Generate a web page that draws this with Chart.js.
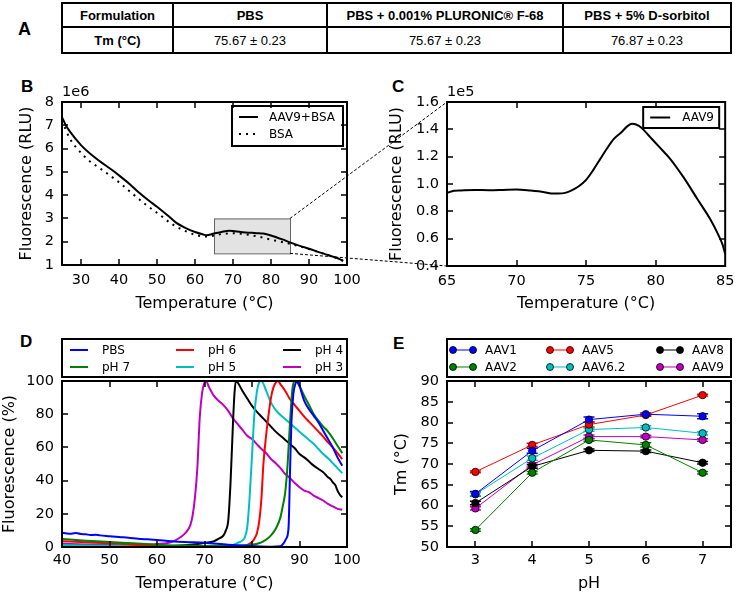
<!DOCTYPE html>
<html><head><meta charset="utf-8">
<script src="https://cdn.jsdelivr.net/npm/chart.js@4.4.1/dist/chart.umd.min.js"></script>
<style>
html,body{margin:0;padding:0;background:#fff;}
body{width:741px;height:596px;position:relative;overflow:hidden;}
canvas{position:absolute;}
.lbl{position:absolute;font:bold 17px "Liberation Sans",Arial,sans-serif;line-height:17px;color:#000;}
table{position:absolute;left:61px;top:2px;border-collapse:collapse;table-layout:fixed;font:13px "Liberation Sans",Arial,sans-serif;color:#000;}
td{border:2px solid #000;text-align:center;padding:0;white-space:nowrap;}
tr.h td{font-weight:bold;height:22px;}
tr.v td{height:24px;}
tr.v td:first-child{font-weight:bold;}
</style></head><body>
<div class="lbl" style="left:18px;top:20px;font-size:18px;line-height:18px;">A</div>
<table id="tbl"><colgroup><col style="width:111px"><col style="width:154px"><col style="width:236px"><col style="width:168px"></colgroup>
<tr class="h" id="hrow"></tr><tr class="v" id="vrow"></tr></table>
<div class="lbl" style="left:21px;top:78px;">B</div>
<div class="lbl" style="left:392px;top:78px;">C</div>
<div class="lbl" style="left:20px;top:333px;">D</div>
<div class="lbl" style="left:393px;top:335px;">E</div>
<canvas id="cB" width="370" height="260" style="left:0;top:60px"></canvas>
<canvas id="cC" width="371" height="260" style="left:370px;top:60px"></canvas>
<canvas id="cD" width="370" height="276" style="left:0;top:320px"></canvas>
<canvas id="cE" width="371" height="276" style="left:370px;top:320px"></canvas>
<canvas id="ov" width="741" height="596" style="left:0;top:0;pointer-events:none"></canvas>
<script>
// ---------- Panel A table ----------
const tableHeaders = ["Formulation", "PBS", "PBS + 0.001% PLURONIC® F-68", "PBS + 5% D-sorbitol"];
const tableValues  = ["Tm (°C)", "75.67 ± 0.23", "75.67 ± 0.23", "76.87 ± 0.23"];

// ---------- Panel B (1e6 RLU) ----------
const bTemps   = [25,26,27,30,33,35,38,40,43,45,48,50,53,55,58,60,62,63,65,67,69,70,72,75,77,78,80,83,85,88,90,93,95,97,99];
const bAAV9BSA = [7.35,7.0,6.75,6.15,5.7,5.45,5.1,4.85,4.45,4.15,3.75,3.5,3.1,2.82,2.55,2.42,2.32,2.28,2.35,2.42,2.47,2.46,2.42,2.38,2.36,2.35,2.27,2.1,1.97,1.8,1.7,1.53,1.43,1.32,1.18];
const bTempsBSA = [25,27,29,32,35,38,40,44,47,51,54,58,60,63,67,70,74,78,81,84,88,92,96,99];
const bBSA      = [7.2,6.45,6.0,5.5,5.15,4.8,4.55,4.0,3.6,3.12,2.75,2.42,2.3,2.22,2.33,2.36,2.3,2.17,2.05,1.95,1.78,1.58,1.37,1.18];
const bXTicks = [30,40,50,60,70,80,90,100];
const bYTicks = [1,2,3,4,5,6,7,8];
const zoomTemp  = [65, 85];
const zoomFluor = [1.5, 3.0];

// ---------- Panel C (1e5 RLU) ----------
const cTemps = [65,65.5,66,67,68,69,70,71,72,72.5,73,73.5,74,74.5,75,75.5,76,76.5,77,77.5,78,78.3,78.6,79,79.5,80,80.5,81,82,83,84,84.5,84.8,85];
const cAAV9  = [0.935,0.95,0.953,0.957,0.955,0.957,0.96,0.952,0.94,0.93,0.93,0.935,0.955,0.985,1.03,1.10,1.18,1.26,1.33,1.375,1.425,1.44,1.435,1.41,1.355,1.30,1.245,1.19,1.05,0.89,0.73,0.63,0.56,0.49];
const cXTicks = [65,70,75,80,85];
const cYTicks = [0.4,0.6,0.8,1.0,1.2,1.4,1.6];

// ---------- Panel D (% fluorescence) ----------
const dPbsT = [40,41,42,43,44,45,46,47,48,50,52,54,56,58,60,63,66,70,75,80,84,86,86.6,87.2,87.7,88,88.3,88.7,89.2,89.5,90,91,92,93,94,95,96,97,98,99];
const dPbsF = [8.6,8.2,8.0,8.5,7.8,7.7,7.2,7.4,7.0,6.5,6.0,5.6,5.0,4.6,4.2,3.5,3.0,2.5,1.3,0.6,0.2,0.5,2,5,12,45,75,92,99,100,97,88,83,79,75,70,65,60,54,49];
const dPh7T = [40,45,50,55,60,65,70,75,78,80,82,83,84,85,86,86.5,87,87.5,88,88.5,89,89.5,90,91,92,93,94,95,96,97,98,99];
const dPh7F = [4.8,3.8,3.0,2.2,1.4,0.9,0.6,0.6,0.9,1.3,2.8,4.5,7,11,18,25,33,50,75,95,100,99,97,91,85.5,80,76,72.5,69.5,65.5,61,56.5];
const dPh6T = [40,45,50,55,60,65,70,75,78,79,80,80.5,81,81.5,82,82.4,83,83.5,84,84.5,85,85.5,86,87,88,89,90,91,92,93,94,95,96,97,98,99];
const dPh6F = [3.5,2.8,2.2,1.4,0.7,0.4,0.3,0.3,0.6,1.2,3,5,8,15,30,50,68,80,90,96,99,100,98,94,89,85.5,82,78.5,75.5,72.5,69.5,66.5,63,60,56.5,53];
const dPh5T = [40,50,60,70,74,76,77,78,78.5,79,79.5,80,80.5,81,81.5,82,83,84,85,86,87,88,89,90,91,92,93,94,95,96,97,98,99];
const dPh5F = [1.2,0.8,0.5,0.3,0.5,1.2,2.5,4,6,12,30,55,80,93,99,100,94,87,82.5,79.5,77,74.5,72,69.5,67,64.5,62,59,56,53.5,50.5,47.5,44.5];
const dPh4T = [40,50,60,65,68,70,72,73,74,74.5,75,75.5,76,76.3,76.6,77,78,79,80,81,82,83,84,85,86,87,88,89,90,91,92,93,94,95,95.5,96,96.5,97,97.5,98,98.5,99];
const dPh4F = [1.0,0.6,0.6,0.9,1.6,2.5,3.5,5,7,10,16,40,75,92,100,99,94,89.5,85,81.5,78.5,75.5,72.5,69.5,67,64.5,62,59.5,56,54,51.5,49,47,45,43.5,42,41,39,37.5,34,31.5,30];
const dPh3T = [40,45,50,55,58,60,62,63,64,65,66,67,67.5,68,68.5,69,69.5,70,70.3,71,72,73,74,75,76,77,78,79,80,81,82,83,84,85,86,87,88,89,90,91,92,93,94,95,96,97,98,99];
const dPh3F = [2.0,1.5,1.2,0.9,1.2,1.8,2.3,3.0,4.2,6,8.5,13,19,30,48,78,93,99,100,96,91,88,85.5,82,77.5,74,70.5,67,65,62,59,56.5,53,50.5,47.5,44,41.5,38.5,36,34,33,31,29.5,28,26,24.5,23,22.5];
const dXTicks = [40,50,60,70,80,90,100];
const dYTicks = [0,20,40,60,80,100];

// ---------- Panel E (Tm vs pH) ----------
const ePH = [3,4,5,6,7];
const eAAV1  = [62.8,73.2,80.7,82.0,81.5];
const eAAV2  = [54.1,67.9,75.8,74.6,67.9];
const eAAV5  = [68.1,74.6,79.5,81.8,86.6];
const eAAV62 = [62.7,71.4,78.3,78.8,77.4];
const eAAV8  = [60.6,69.4,73.3,73.1,70.3];
const eAAV9  = [59.3,69.8,76.6,76.6,75.8];
const eErr1  = [0.6,0.6,0.6,0.3,0.6];
const eErr2  = [0.3,0.3,0.3,0.5,0.3];
const eErr5  = [0.2,0.4,0.6,0.3,0.2];
const eErr62 = [0.4,0.5,0.4,0.4,0.4];
const eErr8  = [0.4,0.4,0.3,0.3,0.3];
const eErr9  = [0.4,0.5,0.4,0.3,0.3];
const eYTicks = [50,55,60,65,70,75,80,85,90];

// ---------- build table ----------
const hr = document.getElementById('hrow'), vr = document.getElementById('vrow');
tableHeaders.forEach(t => { const td = document.createElement('td'); td.textContent = t; hr.appendChild(td); });
tableValues.forEach(t => { const td = document.createElement('td'); td.textContent = t; vr.appendChild(td); });

// ---------- helpers ----------
const FONT = 'DejaVu Sans';
const pts = (xs, ys) => xs.map((x, i) => ({x: x, y: ys[i]}));

function axis(min, max, tickVals, o) {
  return {
    type: 'linear', min: min, max: max,
    afterBuildTicks: s => { s.ticks = tickVals.map(v => ({value: v})); },
    afterFit: s => { if (o.w != null) s.width = o.w; if (o.h != null) s.height = o.h; },
    grid: {display: false, drawTicks: false},
    border: {display: false},
    ticks: {padding: o.pad, color: '#000', autoSkip: false, maxRotation: 0,
            font: {family: FONT, size: 14.5},
            callback: o.fmt || (v => String(v))},
    title: {display: true, text: o.title, color: '#000', font: {family: FONT, size: 16},
            padding: o.tpad}
  };
}

const panelPlugin = {
  id: 'panel',
  beforeDatasetsDraw(chart, args, o) {
    const ctx = chart.ctx, xs = chart.scales.x, ys = chart.scales.y;
    if (o.zoomBox) {
      const x0 = xs.getPixelForValue(o.zoomBox[0]), x1 = xs.getPixelForValue(o.zoomBox[1]);
      const y0 = ys.getPixelForValue(o.zoomBox[2]), y1 = ys.getPixelForValue(o.zoomBox[3]);
      ctx.save();
      ctx.fillStyle = '#e3e3e3'; ctx.strokeStyle = '#666'; ctx.lineWidth = 1;
      ctx.fillRect(x0, y1, x1 - x0, y0 - y1);
      ctx.strokeRect(x0 + 0.5, y1 + 0.5, x1 - x0, y0 - y1);
      ctx.restore();
    }
    if (o.errorBars) {
      ctx.save();
      chart.data.datasets.forEach(ds => {
        if (!ds.errors) return;
        ctx.strokeStyle = ds.borderColor; ctx.lineWidth = 1.5;
        ds.data.forEach((p, i) => {
          const px = xs.getPixelForValue(p.x);
          const yl = ys.getPixelForValue(p.y - ds.errors[i]), yh = ys.getPixelForValue(p.y + ds.errors[i]);
          ctx.beginPath();
          ctx.moveTo(px, yl); ctx.lineTo(px, yh);
          ctx.moveTo(px - 5.5, yl); ctx.lineTo(px + 5.5, yl);
          ctx.moveTo(px - 5.5, yh); ctx.lineTo(px + 5.5, yh);
          ctx.stroke();
        });
      });
      ctx.restore();
    }
  },
  afterDatasetsDraw(chart, args, o) {
    const ctx = chart.ctx, ca = chart.chartArea, xs = chart.scales.x, ys = chart.scales.y;
    ctx.save();
    // legend
    const L = o.legend;
    if (L) {
      let bx, by, bw, bh;
      if (L.inside) { bw = L.w; bh = L.h; bx = ca.right - L.dx - bw; by = ca.top + L.dy; }
      else { bx = ca.left; bw = ca.right - ca.left; by = ca.top - L.above; bh = L.h; }
      ctx.fillStyle = '#fff'; ctx.fillRect(bx, by, bw, bh);
      ctx.lineWidth = 2; ctx.strokeStyle = '#000'; ctx.strokeRect(bx, by, bw, bh);
      ctx.font = '12px "' + FONT + '"'; ctx.textBaseline = 'middle'; ctx.textAlign = 'left';
      chart.data.datasets.forEach((ds, i) => {
        const col = Math.floor(i / L.rows), row = i % L.rows;
        const hx = bx + L.cols[col], hy = by + L.rowY[row];
        ctx.strokeStyle = ds.borderColor; ctx.lineWidth = ds.borderWidth;
        ctx.setLineDash(ds.borderDash || []);
        ctx.beginPath(); ctx.moveTo(hx, hy); ctx.lineTo(hx + L.hlen, hy); ctx.stroke();
        ctx.setLineDash([]);
        if (L.markers) {
          [hx, hx + L.hlen].forEach(mx => {
            ctx.beginPath(); ctx.arc(mx, hy, 3.5, 0, Math.PI * 2);
            ctx.fillStyle = ds.pointBackgroundColor; ctx.fill();
            ctx.lineWidth = 0.8; ctx.strokeStyle = '#000'; ctx.stroke();
          });
        }
        ctx.fillStyle = '#000';
        ctx.fillText(ds.label, hx + L.toff, hy + 0.5);
      });
    }
    // ticks (inside, all four sides)
    ctx.strokeStyle = '#000'; ctx.lineWidth = 1.5; const tl = 6;
    ctx.beginPath();
    xs.ticks.forEach(t => {
      const px = Math.round(xs.getPixelForValue(t.value));
      if (px <= ca.left + 1 || px >= ca.right - 1) return;
      ctx.moveTo(px, ca.bottom); ctx.lineTo(px, ca.bottom - tl);
      ctx.moveTo(px, ca.top); ctx.lineTo(px, ca.top + tl);
    });
    ys.ticks.forEach(t => {
      const py = Math.round(ys.getPixelForValue(t.value));
      if (py <= ca.top + 1 || py >= ca.bottom - 1) return;
      ctx.moveTo(ca.left, py); ctx.lineTo(ca.left + tl, py);
      ctx.moveTo(ca.right, py); ctx.lineTo(ca.right - tl, py);
    });
    ctx.stroke();
    // frame
    ctx.lineWidth = 2;
    ctx.strokeRect(ca.left, ca.top, ca.right - ca.left, ca.bottom - ca.top);
    // offset text
    if (o.offsetText) {
      ctx.fillStyle = '#000'; ctx.font = '14.5px "' + FONT + '"';
      ctx.textBaseline = 'alphabetic'; ctx.textAlign = 'left';
      ctx.fillText(o.offsetText, ca.left, ca.top - 6);
    }
    ctx.restore();
  }
};

function lineDs(label, xs, ys, color, extra) {
  return Object.assign({label: label, data: pts(xs, ys), borderColor: color, backgroundColor: color,
    borderWidth: 2, pointRadius: 0, fill: false, cubicInterpolationMode: 'monotone'}, extra || {});
}

function mk(id, datasets, scales, padding, panelOpts) {
  return new Chart(document.getElementById(id), {
    type: 'line',
    data: {datasets: datasets},
    options: {
      responsive: false, animation: false, maintainAspectRatio: false,
      layout: {padding: padding},
      scales: scales,
      plugins: {legend: {display: false}, tooltip: {enabled: false}, panel: panelOpts}
    },
    plugins: [panelPlugin]
  });
}

// ---------- Panel B ----------
const chartB = mk('cB', [
  lineDs('AAV9+BSA', bTemps, bAAV9BSA, '#000'),
  lineDs('BSA', bTempsBSA, bBSA, '#000', {borderDash: [2, 5]})
], {
  x: axis(25, 100, bXTicks, {h: 55, pad: 6.6, title: 'Temperature (°C)', tpad: {top: 0, bottom: 6.4}}),
  y: axis(1, 8, bYTicks, {w: 62, pad: 8, title: 'Fluorescence (RLU)', tpad: {top: 17.4, bottom: 0}})
}, {left: 0, top: 42, right: 23, bottom: 0}, {
  zoomBox: [zoomTemp[0], zoomTemp[1], zoomFluor[0], zoomFluor[1]],
  offsetText: '1e6',
  legend: {inside: true, w: 111, h: 40, dx: 4, dy: 4, rows: 2, cols: [7], rowY: [11, 28], hlen: 19, toff: 30}
});

// ---------- Panel C ----------
const chartC = mk('cC', [
  lineDs('AAV9', cTemps, cAAV9, '#000')
], {
  x: axis(65, 85, cXTicks, {h: 54, pad: 6.6, title: 'Temperature (°C)', tpad: {top: 0, bottom: 6.4}}),
  y: axis(0.4, 1.6, cYTicks, {w: 77, pad: 8, title: 'Fluorescence (RLU)', tpad: {top: 17.4, bottom: 0},
         fmt: v => v.toFixed(1)})
}, {left: 0, top: 42, right: 10, bottom: 0}, {
  offsetText: '1e5',
  legend: {inside: true, w: 76, h: 21, dx: 6, dy: 5, rows: 1, cols: [7], rowY: [10.5], hlen: 20, toff: 32}
});

// ---------- Panel D ----------
const chartD = mk('cD', [
  lineDs('PBS', dPbsT, dPbsF, '#0000ff'),
  lineDs('pH 7', dPh7T, dPh7F, '#008000'),
  lineDs('pH 6', dPh6T, dPh6F, '#ff0000'),
  lineDs('pH 5', dPh5T, dPh5F, '#00bfbf'),
  lineDs('pH 4', dPh4T, dPh4F, '#000000'),
  lineDs('pH 3', dPh3T, dPh3F, '#bf00bf')
], {
  x: axis(40, 100, dXTicks, {h: 49, pad: 4.3, title: 'Temperature (°C)', tpad: {top: 0, bottom: 2.4}}),
  y: axis(0, 100, dYTicks, {w: 62, pad: 8, title: 'Fluorescence (%)', tpad: {top: 0, bottom: 0}})
}, {left: 0, top: 61, right: 23, bottom: 0}, {
  legend: {inside: false, above: 42, h: 38, rows: 2, cols: [8, 114, 221], rowY: [11, 28], hlen: 18, toff: 32}
});

// ---------- Panel E ----------
function eDs(label, ys, err, color) {
  return {label: label, data: pts(ePH, ys), errors: err, borderColor: color, backgroundColor: color,
    borderWidth: 1, pointRadius: 3.7, pointBackgroundColor: color, pointBorderColor: '#000',
    pointBorderWidth: 0.8, fill: false, tension: 0};
}
const chartE = mk('cE', [
  eDs('AAV1', eAAV1, eErr1, '#0000ff'),
  eDs('AAV2', eAAV2, eErr2, '#008000'),
  eDs('AAV5', eAAV5, eErr5, '#ff0000'),
  eDs('AAV6.2', eAAV62, eErr62, '#00bfbf'),
  eDs('AAV8', eAAV8, eErr8, '#000000'),
  eDs('AAV9', eAAV9, eErr9, '#bf00bf')
], {
  x: axis(2.5, 7.5, ePH, {h: 49, pad: 4.3, title: 'pH', tpad: {top: 0, bottom: 2.4}}),
  y: axis(50, 90, eYTicks, {w: 77, pad: 8, title: 'Tm (°C)', tpad: {top: 22.4, bottom: 0}})
}, {left: 0, top: 61, right: 10, bottom: 0}, {
  errorBars: true,
  legend: {inside: false, above: 42, h: 38, rows: 2, cols: [6, 103, 213], rowY: [11, 28], hlen: 20, toff: 32, markers: true}
});

// ---------- connector lines (zoom from B to C) ----------
(function () {
  const ov = document.getElementById('ov').getContext('2d');
  const bOff = {x: 0, y: 60}, cOff = {x: 370, y: 60};
  const bx = bOff.x + chartB.scales.x.getPixelForValue(zoomTemp[1]);
  const byTop = bOff.y + chartB.scales.y.getPixelForValue(zoomFluor[1]);
  const byBot = bOff.y + chartB.scales.y.getPixelForValue(zoomFluor[0]);
  const cx = cOff.x + chartC.scales.x.getPixelForValue(zoomTemp[0]);
  const cyTop = cOff.y + chartC.scales.y.getPixelForValue(1.6);
  const cyBot = cOff.y + chartC.scales.y.getPixelForValue(0.4);
  ov.strokeStyle = '#000'; ov.lineWidth = 1; ov.setLineDash([3, 2]);
  ov.beginPath();
  ov.moveTo(bx, byTop); ov.lineTo(cx, cyTop);
  ov.moveTo(bx, byBot); ov.lineTo(cx, cyBot);
  ov.stroke();
})();
</script>
</body></html>
